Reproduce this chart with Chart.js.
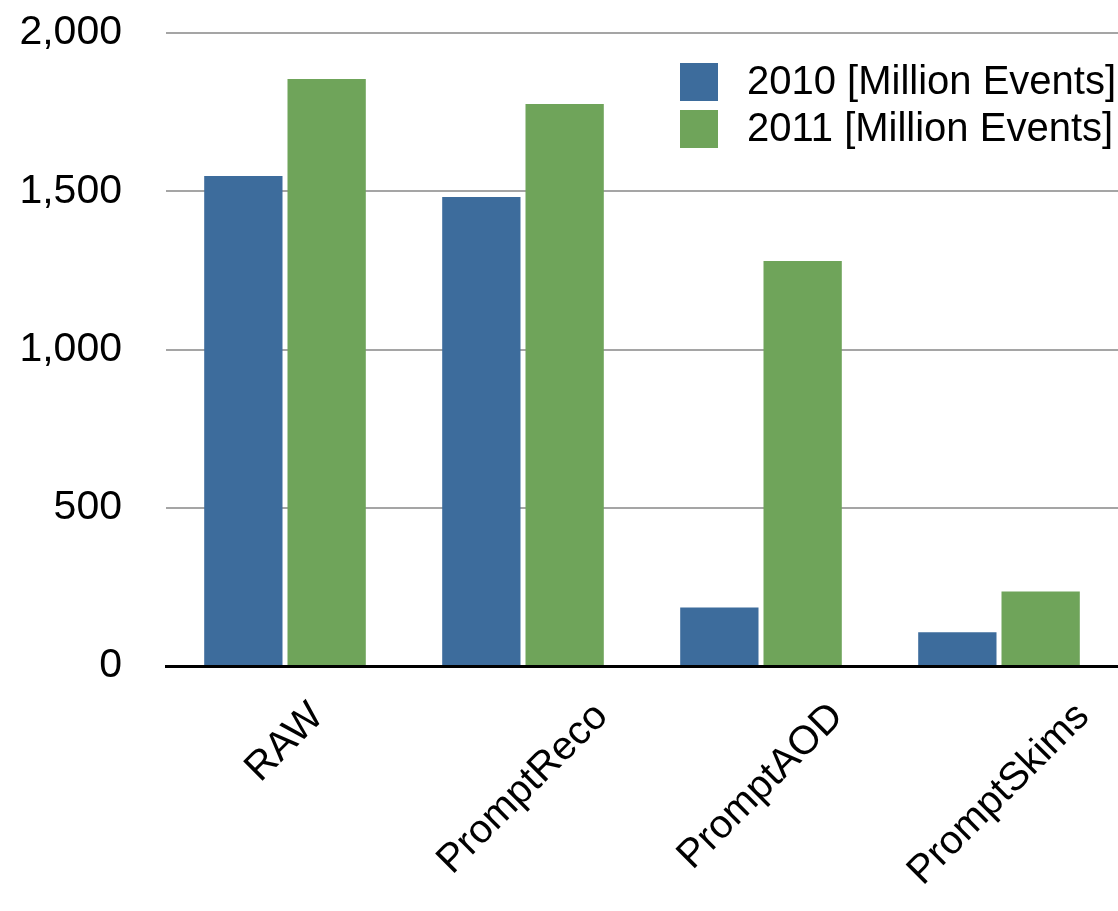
<!DOCTYPE html>
<html>
<head>
<meta charset="utf-8">
<script src="https://cdn.jsdelivr.net/npm/chart.js@4.4.1/dist/chart.umd.min.js"></script>
<style>
  html, body { margin: 0; padding: 0; background: #fff; }
  #wrap { width: 1118px; height: 911px; position: relative; }
</style>
</head>
<body>
<div id="wrap"><canvas id="c" width="1118" height="911"></canvas></div>
<script>
const categories = ["RAW", "PromptReco", "PromptAOD", "PromptSkims"];
const series2010 = [1548, 1482, 185, 107];
const series2011 = [1855, 1776, 1280, 235];
const seriesLabels = ["2010 [Million Events]", "2011 [Million Events]"];
const yTicks = [0, 500, 1000, 1500, 2000];

const FONT = '"Liberation Sans", Arial, Helvetica, sans-serif';

const rotatedLabels = {
  id: 'rotatedLabels',
  afterDraw(chart) {
    const ctx = chart.ctx;
    const xs = chart.scales.x;
    ctx.save();
    ctx.font = '40px ' + FONT;
    ctx.fillStyle = '#000';
    ctx.textAlign = 'center';
    ctx.textBaseline = 'middle';
    const topY = chart.chartArea.bottom + 34;
    categories.forEach((lab, i) => {
      const w = ctx.measureText(lab).width;
      const h = 29;
      const half = (w + h) / 2 * Math.SQRT1_2;
      const x = xs.getPixelForTick(i);
      const y = topY + half;
      ctx.save();
      ctx.translate(x, y);
      ctx.rotate(-Math.PI / 4);
      ctx.fillText(lab, 0, 0);
      ctx.restore();
    });
    ctx.restore();
  }
};

const legendInside = {
  id: 'legendInside',
  afterDraw(chart) {
    const ctx = chart.ctx;
    ctx.save();
    ctx.font = '40px ' + FONT;
    ctx.textAlign = 'left';
    ctx.textBaseline = 'middle';
    chart.data.datasets.forEach((ds, i) => {
      const cy = 82 + i * 47;
      ctx.fillStyle = ds.backgroundColor;
      ctx.fillRect(680, cy - 19, 38, 38);
      ctx.fillStyle = '#000';
      ctx.fillText(ds.label, 747, cy + 1);
    });
    ctx.restore();
  }
};

new Chart(document.getElementById('c'), {
  type: 'bar',
  data: {
    labels: categories,
    datasets: [
      { label: seriesLabels[0], data: series2010, backgroundColor: '#3D6C9C' },
      { label: seriesLabels[1], data: series2011, backgroundColor: '#6FA45A' }
    ]
  },
  options: {
    responsive: false,
    animation: false,
    devicePixelRatio: 1,
    layout: { padding: { top: 33, right: 0, left: 0, bottom: 0 } },
    datasets: { bar: { categoryPercentage: 0.7, barPercentage: 0.94 } },
    plugins: { legend: { display: false }, tooltip: { enabled: false } },
    scales: {
      x: {
        grid: { display: false, drawTicks: false },
        border: { display: true, color: '#000', width: 3 },
        ticks: { display: false },
        afterFit(scale) { scale.height = 245; scale.paddingLeft = 0; scale.paddingRight = 0; }
      },
      y: {
        min: 0,
        max: 2000,
        afterBuildTicks(scale) { scale.ticks = yTicks.map(v => ({ value: v })); },
        grid: {
          color: (c) => c.tick && c.tick.value === 0 ? 'rgba(0,0,0,0)' : '#A5A5A5',
          lineWidth: 2,
          drawTicks: false
        },
        border: { display: false },
        ticks: {
          padding: 44,
          color: '#000',
          font: { family: FONT, size: 41, lineHeight: 1.1 },
          callback: (v) => v.toLocaleString('en-US')
        },
        afterFit(scale) { scale.width = 166; scale.paddingTop = 0; scale.paddingBottom = 0; }
      }
    }
  },
  plugins: [rotatedLabels, legendInside]
});
</script>
</body>
</html>
